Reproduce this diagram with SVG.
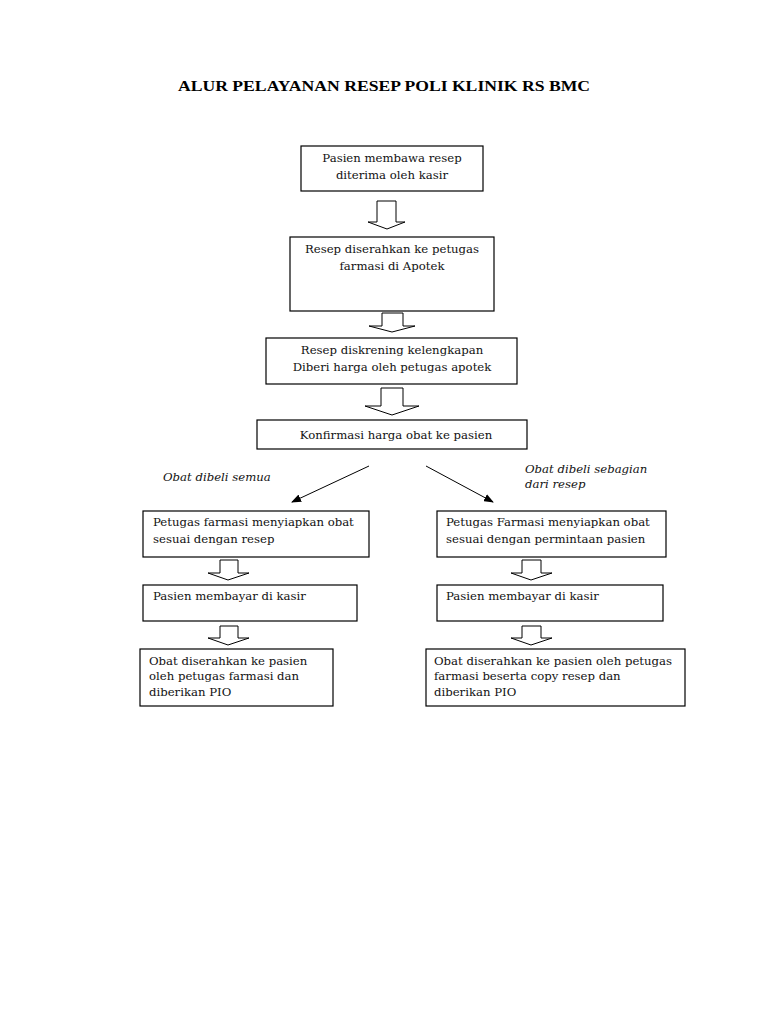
<svg xmlns="http://www.w3.org/2000/svg" width="768" height="1024" viewBox="0 0 768 1024">
<style>
.box{fill:#fff;stroke:#000;stroke-width:1.2}
.t{font-family:"DejaVu Serif","Liberation Serif",serif;font-size:11.7px;fill:#111}
.c{text-anchor:middle}
.i{font-style:italic}
.blk{fill:#fff;stroke:#000;stroke-width:1}
.ln{stroke:#000;stroke-width:1;fill:none}
.title{font-family:"Liberation Serif",serif;font-weight:bold;font-size:15.5px;text-anchor:middle;fill:#000}
</style>
<defs>
<marker id="ah" markerWidth="10" markerHeight="8" refX="9" refY="4" orient="auto" markerUnits="userSpaceOnUse">
<path d="M0,0 L10,4 L0,8 Z" fill="#000"/>
</marker>
</defs>
<rect width="768" height="1024" fill="#fff"/>
<text class="title" x="384" y="91" textLength="412" lengthAdjust="spacingAndGlyphs">ALUR PELAYANAN RESEP POLI KLINIK RS BMC</text>

<g id="n1"><rect class="box" x="301" y="146" width="182" height="45"/>
<text class="t c" x="392" y="162">Pasien membawa resep</text>
<text class="t c" x="392" y="179">diterima oleh kasir</text></g>

<g id="n2"><rect class="box" x="290" y="237" width="204" height="74"/>
<text class="t c" x="392" y="253">Resep diserahkan ke petugas</text>
<text class="t c" x="392" y="270">farmasi di Apotek</text></g>

<g id="n3"><rect class="box" x="266" y="338" width="251" height="46"/>
<text class="t c" x="392" y="354">Resep diskrening kelengkapan</text>
<text class="t c" x="392" y="371">Diberi harga oleh petugas apotek</text></g>

<g id="n4"><rect class="box" x="257" y="420" width="270" height="29"/>
<text class="t c" x="396" y="439">Konfirmasi harga obat ke pasien</text></g>

<g id="lab1"><text class="t i" x="163" y="481">Obat dibeli semua</text></g>
<g id="lab2"><text class="t i" x="525" y="473">Obat dibeli sebagian</text>
<text class="t i" x="525" y="488">dari resep</text></g>

<g id="l1"><rect class="box" x="143" y="511" width="226" height="46"/>
<text class="t" x="153" y="526">Petugas farmasi menyiapkan obat</text>
<text class="t" x="153" y="543">sesuai dengan resep</text></g>

<g id="l2"><rect class="box" x="143" y="585" width="214" height="36"/>
<text class="t" x="153" y="600">Pasien membayar di kasir</text></g>

<g id="l3"><rect class="box" x="140" y="649" width="193" height="57"/>
<text class="t" x="149" y="665">Obat diserahkan ke pasien</text>
<text class="t" x="149" y="680">oleh petugas farmasi dan</text>
<text class="t" x="149" y="696">diberikan PIO</text></g>

<g id="r1"><rect class="box" x="437" y="511" width="229" height="46"/>
<text class="t" x="446" y="526">Petugas Farmasi menyiapkan obat</text>
<text class="t" x="446" y="543">sesuai dengan permintaan pasien</text></g>

<g id="r2"><rect class="box" x="437" y="585" width="226" height="36"/>
<text class="t" x="446" y="600">Pasien membayar di kasir</text></g>

<g id="r3"><rect class="box" x="426" y="649" width="259" height="57"/>
<text class="t" x="434" y="665">Obat diserahkan ke pasien oleh petugas</text>
<text class="t" x="434" y="680">farmasi beserta copy resep dan</text>
<text class="t" x="434" y="696">diberikan PIO</text></g>

<g id="connectors">
<path class="blk" d="M377,201 H396 V222 H405 L387,229 L368,222 H377 Z"/>
<path class="blk" d="M382,313 H403 V326 H415 L392,332 L369,326 H382 Z"/>
<path class="blk" d="M381,388 H403 V406 H419 L392,415 L365,406 H381 Z"/>
<path class="blk" d="M220,560 H238 V573 H249 L228,580 L208,573 H220 Z"/>
<path class="blk" d="M220,626 H238 V638 H249 L228,645 L208,638 H220 Z"/>
<path class="blk" d="M522,560 H541 V573 H552 L531,580 L511,573 H522 Z"/>
<path class="blk" d="M522,626 H541 V638 H552 L531,645 L511,638 H522 Z"/>
<line class="ln" x1="369" y1="466" x2="292" y2="502" marker-end="url(#ah)"/>
<line class="ln" x1="426" y1="466" x2="493" y2="502" marker-end="url(#ah)"/>
</g>
</svg>
